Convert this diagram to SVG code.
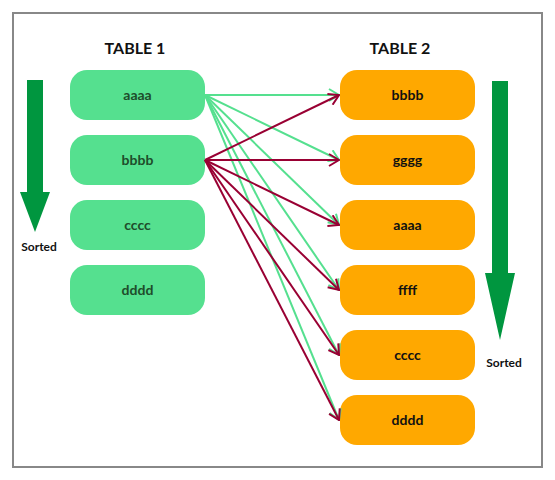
<svg xmlns="http://www.w3.org/2000/svg" width="555" height="480" viewBox="0 0 555 480">
<defs>
<style>
.t1 rect{fill:#55e08f;}
.t2 rect{fill:#ffa800;}
.lbl{font-family:Lato,"Liberation Sans",sans-serif;font-weight:bold;font-size:14px;text-anchor:middle;}
.t1 text{fill:#1e4d2b;}
.t2 text{fill:#111;}
.head{font-family:Lato,"Liberation Sans",sans-serif;font-weight:bold;font-size:16px;text-anchor:middle;fill:#111;}
.srt{font-family:Lato,"Liberation Sans",sans-serif;font-weight:bold;font-size:12px;text-anchor:middle;fill:#111;}
.g{stroke:#55e08f;stroke-width:2;fill:none;marker-end:url(#ag);}
.r{stroke:#990033;stroke-width:2;fill:none;marker-end:url(#ar);}
.sort{fill:#00963f;}
</style>
<marker id="ag" markerUnits="userSpaceOnUse" viewBox="0 0 12 14" refX="11" refY="7" markerWidth="12" markerHeight="14" orient="auto">
<path d="M1,1 L11,7 L1,13" fill="none" stroke="#55e08f" stroke-width="2"/>
</marker>
<marker id="ar" markerUnits="userSpaceOnUse" viewBox="0 0 12 14" refX="11" refY="7" markerWidth="12" markerHeight="14" orient="auto">
<path d="M1,1 L11,7 L1,13" fill="none" stroke="#990033" stroke-width="2"/>
</marker>
</defs>
<rect x="0" y="0" width="555" height="480" fill="#fff"/>
<rect x="13" y="13" width="529" height="454" fill="none" stroke="#888" stroke-width="2"/>
<text class="head" x="135" y="54">TABLE 1</text>
<text class="head" x="400" y="54">TABLE 2</text>
<g id="sort-left">
<polygon class="sort" points="27,80 43,80 43,192 50,192 35,232 20,192 27,192"/>
<text class="srt" x="39" y="251">Sorted</text>
</g>
<g id="sort-right">
<polygon class="sort" points="492,81 508,81 508,273 515,273 500,340 485,273 492,273"/>
<text class="srt" x="504" y="367">Sorted</text>
</g>
<g id="t1-aaaa" class="t1"><rect x="70" y="70" width="135" height="50" rx="17"/><text class="lbl" x="137.5" y="100">aaaa</text></g>
<g id="t1-bbbb" class="t1"><rect x="70" y="135" width="135" height="50" rx="17"/><text class="lbl" x="137.5" y="165">bbbb</text></g>
<g id="t1-cccc" class="t1"><rect x="70" y="200" width="135" height="50" rx="17"/><text class="lbl" x="137.5" y="230">cccc</text></g>
<g id="t1-dddd" class="t1"><rect x="70" y="265" width="135" height="50" rx="17"/><text class="lbl" x="137.5" y="295">dddd</text></g>
<g id="t2-bbbb" class="t2"><rect x="340" y="70" width="135" height="50" rx="17"/><text class="lbl" x="407.5" y="100">bbbb</text></g>
<g id="t2-gggg" class="t2"><rect x="340" y="135" width="135" height="50" rx="17"/><text class="lbl" x="407.5" y="165">gggg</text></g>
<g id="t2-aaaa" class="t2"><rect x="340" y="200" width="135" height="50" rx="17"/><text class="lbl" x="407.5" y="230">aaaa</text></g>
<g id="t2-ffff" class="t2"><rect x="340" y="265" width="135" height="50" rx="17"/><text class="lbl" x="407.5" y="295">ffff</text></g>
<g id="t2-cccc" class="t2"><rect x="340" y="330" width="135" height="50" rx="17"/><text class="lbl" x="407.5" y="360">cccc</text></g>
<g id="t2-dddd" class="t2"><rect x="340" y="395" width="135" height="50" rx="17"/><text class="lbl" x="407.5" y="425">dddd</text></g>
<g id="connectors">
<line class="g" x1="205" y1="95" x2="339" y2="95"/>
<line class="g" x1="205" y1="95" x2="339" y2="160"/>
<line class="g" x1="205" y1="95" x2="339" y2="225"/>
<line class="g" x1="205" y1="95" x2="339" y2="290"/>
<line class="g" x1="205" y1="95" x2="339" y2="355"/>
<line class="g" x1="205" y1="95" x2="339" y2="420"/>
<line class="r" x1="205" y1="160" x2="339" y2="95"/>
<line class="r" x1="205" y1="160" x2="339" y2="160"/>
<line class="r" x1="205" y1="160" x2="339" y2="225"/>
<line class="r" x1="205" y1="160" x2="339" y2="290"/>
<line class="r" x1="205" y1="160" x2="339" y2="355"/>
<line class="r" x1="205" y1="160" x2="339" y2="420"/>
</g>
</svg>
